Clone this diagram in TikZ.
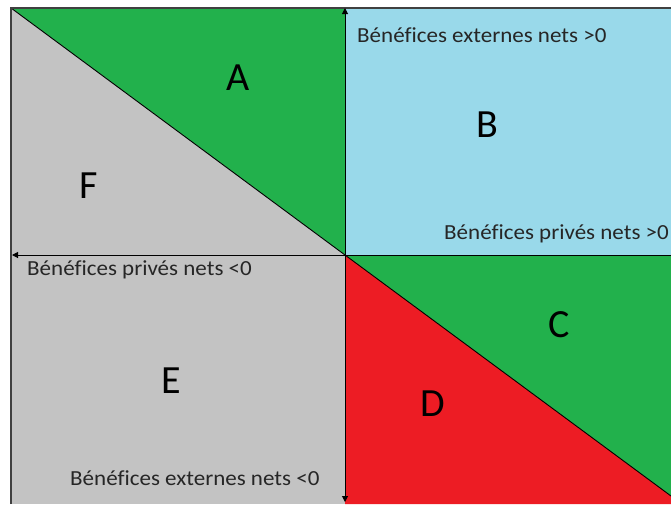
\documentclass[tikz,border=0pt]{standalone}
\usepackage{fontspec}
\setmainfont[Ligatures=CommonOff]{Carlito}
\usetikzlibrary{arrows.meta}
\definecolor{pgreen}{HTML}{22B14C}
\definecolor{pblue}{HTML}{99D9EA}
\definecolor{pgray}{HTML}{C3C3C3}
\definecolor{pred}{HTML}{ED1C24}
\begin{document}
\begin{tikzpicture}[x=1pt,y=-1pt,
  region/.style={font=\fontsize{40}{44}\selectfont, inner sep=0pt},
  axislabel/.style={font=\fontsize{21.5}{24}\selectfont, inner sep=0pt, text=black!85, xscale=1.07},
  axis/.style={draw=black, line width=1pt, -{Triangle[length=6pt,width=6pt]}}]
\useasboundingbox (0,0) rectangle (671,504);
\fill[white] (0,0) rectangle (671,504);
% coordinates
\coordinate (tl) at (11,8);
\coordinate (o) at (345,255);
\coordinate (top) at (345,8);
\coordinate (bot) at (345,502);
\coordinate (left) at (12,255);
\coordinate (right) at (671,255);
\coordinate (br) at (671,496);
% regions
\fill[pgreen] (tl) -- (top) -- (o) -- cycle;
\fill[pgray] (tl) -- (o) -- (11,255) -- cycle;
\fill[pblue] (top) rectangle (right);
\fill[pgreen] (o) -- (right) -- (br) -- cycle;
\fill[pred] (o) -- (br) -- (671,504) -- (345,504) -- cycle;
\fill[pgray] (11,255) rectangle (345,504);
% diagonals
\draw[black, line width=0.9pt] (tl) -- (o) -- (br);
% frame
\draw[black!75, line width=1.2pt] (11,504) -- (tl) -- (671,8);
% axes
\draw[axis] (o) -- (top);
\draw[axis] (o) -- (bot);
\draw[axis] (o) -- (left);
\draw[black, line width=1pt] (o) -- (right);
% labels
\node[region] (A) at (238,78) {A};
\node[region] (B) at (487,125) {B};
\node[region] (C) at (559,325) {C};
\node[region] (D) at (433,404) {D};
\node[region] (E) at (171,381) {E};
\node[region] (F) at (89,186) {F};
\node[axislabel, anchor=west] (l1) at (357,35) {Bénéfices externes nets >0};
\node[axislabel, anchor=west] (l2) at (444,234) {Bénéfices privés nets >0};
\node[axislabel, anchor=west] (l3) at (27,270) {Bénéfices privés nets <0};
\node[axislabel, anchor=west] (l4) at (70,478) {Bénéfices externes nets <0};
\end{tikzpicture}
\end{document}
